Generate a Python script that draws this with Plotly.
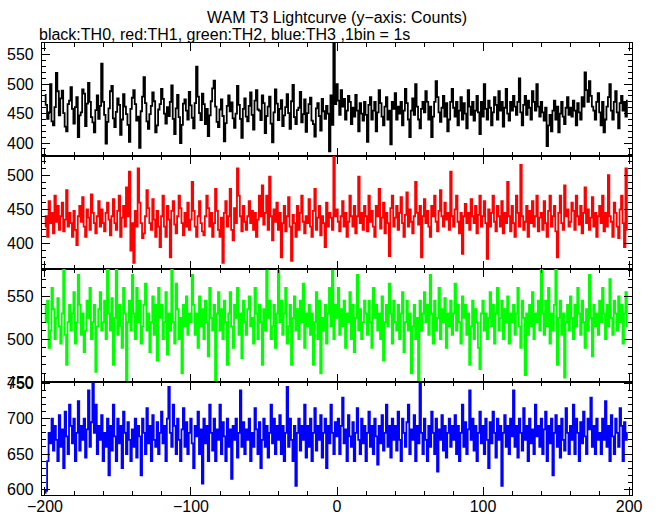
import plotly.graph_objects as go
from plotly.subplots import make_subplots

time_bins = list(range(-200, 200))

th0 = [
 482, 465, 441, 452, 500, 437, 430, 461, 519, 488, 447, 476, 489, 451, 428, 420, 466, 472, 495, 458,
 433, 461, 478, 410, 447, 452, 491, 484, 429, 467, 502, 470, 444, 435, 418, 456, 481, 441, 463, 535,
 470, 448, 399, 436, 459, 488, 497, 442, 427, 453, 476, 465, 414, 440, 483, 462, 449, 431, 402, 458,
 477, 490, 466, 438, 445, 392, 454, 479, 512, 468, 437, 424, 449, 463, 486, 471, 418, 430, 457, 466,
 492, 475, 450, 433, 461, 446, 470, 498, 441, 415, 459, 482, 444, 400, 431, 467, 474, 455, 440, 487,
 464, 443, 425, 468, 530, 479, 451, 439, 484, 466, 432, 458, 412, 447, 471, 493, 506, 462, 436, 427,
 457, 474, 446, 403, 434, 463, 481, 454, 469, 442, 426, 450, 497, 465, 441, 409, 458, 476, 445, 437,
 463, 486, 448, 423, 472, 490, 457, 455, 439, 481, 468, 417, 446, 462, 479, 433, 401, 452, 491, 467,
 439, 458, 473, 429, 447, 461, 483, 451, 424, 471, 499, 444, 432, 456, 460, 487, 435, 449, 474, 419,
 451, 466, 477, 438, 432, 411, 459, 468, 446, 421, 475, 454, 441, 463, 450, 386, 481, 431, 570, 466,
 500, 472, 448, 490, 462, 475, 440, 455, 480, 470, 432, 460, 445, 482, 455, 420, 468, 450, 438, 470,
 448, 402, 465, 478, 440, 455, 470, 420, 452, 490, 468, 445, 430, 462, 478, 440, 455, 398, 470, 458,
 485, 440, 462, 450, 470, 430, 455, 492, 468, 440, 410, 455, 476, 448, 500, 462, 440, 425, 458, 470,
 452, 488, 470, 440, 462, 410, 445, 470, 505, 478, 452, 436, 460, 480, 445, 468, 420, 440, 470, 492,
 460, 445, 470, 430, 455, 478, 440, 468, 450, 425, 490, 462, 448, 470, 438, 455, 480, 452, 415, 470,
 445, 500, 458, 440, 472, 460, 430, 452, 478, 465, 440, 488, 455, 470, 428, 460, 492, 450, 438, 470,
 455, 480, 462, 448, 470, 510, 452, 430, 465, 480, 448, 472, 460, 440, 488, 470, 455, 500, 462, 445,
 470, 452, 438, 460, 395, 430, 448, 420, 455, 472, 440, 462, 418, 450, 470, 445, 432, 460, 478, 448,
 460, 445, 472, 455, 430, 468, 452, 440, 478, 462, 520, 490, 470, 505, 480, 462, 455, 440, 470, 485,
 452, 430, 470, 418, 440, 462, 478, 500, 455, 440, 470, 488, 452, 425, 468, 480, 455, 470, 445, 472,
]

th1 = [
 425, 440, 410, 462, 430, 445, 415, 470, 432, 455, 420, 440, 460, 418, 435, 478, 425, 445, 430, 410,
 448, 420, 398, 440, 455, 432, 468, 425, 410, 450, 438, 420, 472, 445, 430, 415, 440, 462, 425, 450,
 430, 418, 445, 460, 435, 412, 440, 465, 430, 420, 448, 470, 410, 438, 455, 425, 482, 440, 505, 390,
 430, 372, 448, 425, 510, 460, 430, 408, 415, 440, 478, 452, 430, 420, 465, 435, 410, 448, 425, 395,
 440, 470, 425, 410, 455, 435, 380, 448, 462, 428, 415, 440, 470, 452, 430, 412, 445, 425, 460, 420,
 435, 490, 448, 425, 410, 440, 462, 430, 418, 412, 440, 470, 452, 425, 445, 410, 430, 480, 448, 420,
 410, 438, 372, 445, 462, 425, 440, 480, 420, 405, 452, 430, 510, 470, 440, 418, 455, 432, 420, 440,
 462, 430, 448, 420, 445, 410, 435, 470, 440, 485, 428, 445, 470, 420, 498, 440, 405, 450, 432, 460,
 420, 445, 380, 430, 455, 418, 440, 468, 425, 375, 442, 430, 410, 455, 420, 445, 470, 432, 415, 440,
 430, 465, 425, 410, 448, 480, 420, 438, 455, 412, 440, 430, 395, 460, 425, 445, 438, 420, 528, 440,
 450, 432, 418, 440, 462, 425, 445, 410, 432, 470, 440, 425, 455, 415, 440, 498, 430, 445, 420, 455,
 440, 418, 470, 432, 448, 425, 410, 455, 440, 480, 422, 438, 460, 415, 445, 430, 382, 452, 470, 425,
 438, 455, 420, 445, 468, 430, 410, 442, 475, 425, 450, 432, 415, 440, 490, 445, 428, 455, 380, 440,
 465, 430, 448, 425, 410, 455, 440, 470, 432, 418, 448, 478, 440, 425, 460, 435, 445, 420, 505, 440,
 425, 450, 470, 432, 415, 445, 385, 440, 458, 430, 445, 420, 465, 440, 430, 455, 415, 442, 470, 425,
 440, 462, 430, 378, 450, 425, 445, 470, 432, 418, 455, 440, 425, 462, 415, 445, 430, 490, 440, 418,
 455, 430, 410, 470, 445, 425, 515, 440, 420, 432, 455, 410, 448, 430, 462, 425, 440, 470, 418, 438,
 445, 420, 462, 430, 410, 448, 470, 425, 440, 455, 418, 380, 445, 470, 430, 420, 485, 440, 450, 425,
 432, 460, 448, 420, 470, 440, 428, 455, 415, 445, 482, 430, 450, 420, 438, 468, 425, 445, 410, 440,
 455, 430, 470, 418, 445, 425, 500, 440, 432, 410, 460, 445, 425, 408, 450, 470, 430, 395, 510, 420,
]

th2 = [
 540, 520, 545, 490, 510, 560, 535, 500, 525, 548, 515, 495, 530, 582, 505, 470, 520, 540, 510, 530,
 555, 495, 520, 575, 540, 505, 530, 485, 510, 545, 525, 560, 500, 520, 540, 462, 515, 535, 555, 510,
 520, 545, 500, 582, 530, 510, 548, 470, 525, 582, 505, 540, 515, 490, 560, 530, 452, 520, 545, 510,
 575, 530, 500, 560, 520, 545, 495, 515, 540, 565, 510, 530, 485, 520, 550, 505, 540, 475, 560, 525,
 540, 500, 520, 555, 482, 530, 510, 582, 520, 495, 565, 535, 500, 525, 460, 540, 515, 550, 505, 530,
 520, 575, 540, 505, 530, 490, 550, 515, 535, 500, 545, 520, 480, 560, 525, 510, 540, 452, 530, 555,
 510, 535, 500, 545, 520, 470, 530, 555, 515, 490, 540, 525, 560, 505, 530, 478, 545, 520, 505, 535,
 550, 515, 525, 495, 560, 530, 500, 540, 520, 470, 535, 510, 580, 525, 545, 500, 515, 540, 490, 530,
 582, 520, 545, 505, 530, 560, 495, 515, 540, 470, 525, 550, 510, 535, 500, 545, 520, 565, 490, 530,
 515, 540, 505, 530, 470, 520, 555, 500, 545, 460, 525, 510, 540, 495, 530, 560, 515, 580, 500, 540,
 525, 560, 505, 535, 515, 545, 490, 530, 520, 555, 500, 540, 485, 525, 575, 510, 535, 500, 520, 545,
 530, 505, 545, 520, 490, 560, 525, 540, 510, 530, 500, 550, 475, 520, 540, 515, 565, 530, 495, 545,
 520, 510, 540, 500, 530, 555, 485, 520, 545, 510, 530, 460, 515, 540, 500, 525, 452, 545, 510, 530,
 555, 520, 540, 505, 575, 530, 495, 545, 510, 525, 560, 500, 535, 520, 548, 490, 530, 515, 545, 505,
 530, 565, 510, 540, 520, 495, 550, 525, 540, 505, 530, 470, 515, 545, 500, 535, 520, 490, 465, 530,
 545, 510, 530, 500, 525, 555, 515, 540, 495, 530, 560, 510, 525, 545, 500, 535, 520, 550, 495, 530,
 520, 540, 505, 530, 560, 515, 490, 545, 525, 458, 530, 505, 540, 515, 555, 500, 530, 520, 545, 510,
 582, 530, 505, 545, 515, 560, 495, 530, 510, 540, 582, 470, 525, 545, 505, 530, 455, 520, 540, 510,
 550, 525, 500, 540, 515, 560, 530, 505, 545, 520, 490, 535, 510, 575, 525, 480, 540, 515, 530, 505,
 545, 520, 560, 530, 500, 540, 515, 570, 525, 505, 545, 530, 510, 550, 520, 540, 495, 530, 555, 515,
]

th3 = [
 595, 598, 640, 680, 665, 700, 655, 690, 670, 640, 705, 660, 685, 630, 710, 675, 650, 720, 690, 665,
 700, 640, 680, 725, 655, 690, 670, 700, 645, 685, 740, 660, 695, 750, 680, 720, 650, 690, 670, 705,
 640, 680, 660, 700, 620, 690, 655, 720, 675, 640, 700, 665, 690, 630, 710, 680, 650, 695, 670, 640,
 685, 660, 700, 645, 690, 675, 620, 700, 680, 650, 715, 665, 690, 640, 705, 670, 660, 695, 650, 680,
 710, 665, 690, 640, 700, 745, 680, 660, 720, 690, 650, 700, 670, 640, 685, 715, 660, 695, 650, 680,
 700, 665, 630, 690, 675, 710, 650, 685, 608, 700, 665, 690, 640, 720, 680, 655, 700, 640, 685, 670,
 720, 650, 695, 675, 640, 700, 660, 685, 615, 690, 670, 700, 645, 680, 740, 660, 695, 650, 685, 670,
 700, 640, 680, 660, 715, 685, 650, 695, 630, 670, 700, 660, 690, 645, 680, 720, 665, 700, 650, 690,
 670, 705, 650, 690, 640, 680, 745, 660, 700, 670, 640, 690, 605, 680, 700, 655, 690, 670, 720, 645,
 690, 660, 700, 640, 680, 715, 655, 690, 670, 705, 645, 680, 700, 630, 690, 665, 720, 680, 650, 695,
 675, 700, 650, 690, 730, 665, 685, 640, 705, 675, 660, 695, 640, 680, 715, 670, 650, 700, 665, 690,
 640, 680, 710, 660, 690, 650, 700, 675, 635, 690, 665, 705, 655, 680, 720, 660, 690, 645, 700, 670,
 690, 655, 710, 670, 640, 700, 680, 660, 695, 720, 650, 685, 670, 705, 640, 690, 665, 750, 680, 650,
 700, 670, 640, 690, 660, 710, 680, 650, 700, 625, 685, 670, 705, 655, 690, 645, 680, 700, 660, 690,
 670, 705, 650, 690, 640, 680, 720, 660, 695, 650, 685, 740, 670, 700, 655, 690, 640, 680, 710, 665,
 690, 650, 700, 670, 630, 695, 665, 710, 680, 645, 700, 670, 690, 605, 680, 705, 660, 690, 650, 700,
 675, 740, 660, 690, 645, 700, 680, 655, 715, 670, 690, 640, 700, 665, 685, 650, 720, 675, 690, 660,
 700, 650, 685, 710, 640, 690, 665, 700, 620, 680, 705, 660, 690, 645, 700, 670, 655, 715, 680, 650,
 690, 670, 720, 650, 700, 680, 640, 695, 665, 710, 675, 650, 700, 685, 730, 660, 690, 650, 700, 670,
 680, 650, 700, 670, 725, 660, 690, 640, 705, 675, 650, 700, 680, 660, 715, 690, 640, 695, 670, 680,
]

series = [th0, th1, th2, th3]
colors = ["#000000", "#ff0000", "#00ff00", "#0000ff"]
y_ranges = [[378, 570], [363, 528], [450, 582], [592, 752]]

title_text = "WAM T3 Lightcurve (y\u2212axis: Counts)"
subtitle_text = "black:TH0, red:TH1, green:TH2, blue:TH3 ,1bin = 1s"

fig = make_subplots(rows=4, cols=1, shared_xaxes=True, vertical_spacing=0)

for i, (ys, c) in enumerate(zip(series, colors)):
    fig.add_trace(go.Scatter(x=time_bins, y=ys, mode="lines",
                             line=dict(color=c, width=1.8, shape="hvh"),
                             showlegend=False, hoverinfo="skip"),
                  row=i + 1, col=1)

fam = "Liberation Sans, Arial, sans-serif"
font = dict(family=fam, size=16, color="black")

for i in range(4):
    fig.update_yaxes(range=y_ranges[i], dtick=50, ticks="inside", ticklen=8,
                     tickwidth=1.2, tickcolor="black", showline=True,
                     linecolor="black", linewidth=1.2, mirror="allticks",
                     showgrid=False, zeroline=False, tickfont=font,
                     ticklabelstandoff=4, automargin=False,
                     minor=dict(dtick=10, ticks="inside", ticklen=4,
                                tickcolor="black", tickwidth=1.1, showgrid=False),
                     row=i + 1, col=1)
    fig.update_xaxes(range=[-202, 202], dtick=100, ticks="inside", ticklen=8,
                     tickwidth=1.2, tickcolor="black", showline=True,
                     linecolor="black", linewidth=1.2, mirror="allticks",
                     showgrid=False, zeroline=False, tickfont=font,
                     showticklabels=(i == 3), automargin=False,
                     minor=dict(dtick=20, ticks="inside", ticklen=4,
                                tickcolor="black", tickwidth=1.1, showgrid=False),
                     row=i + 1, col=1)

try:
    fig.update_xaxes(ticklabelstandoff=-3, row=4, col=1)
except Exception:
    pass

L, R, T, B = 42, 28, 43, 20
pw = 660 - L - R
ph = 515 - T - B

fig.update_layout(
    width=660, height=515,
    margin=dict(l=L, r=R, t=T, b=B, autoexpand=False),
    paper_bgcolor="white", plot_bgcolor="white",
    font=font,
    annotations=[
        dict(text=title_text, x=(337 - L) / pw, y=(515 - B - 17) / ph,
             xref="paper", yref="paper", xanchor="center", yanchor="middle",
             showarrow=False, font=dict(family=fam, size=16, color="black")),
        dict(text=subtitle_text, x=(37 - L) / pw, y=(515 - B - 35) / ph,
             xref="paper", yref="paper", xanchor="left", yanchor="middle",
             showarrow=False, font=dict(family=fam, size=16, color="black")),
    ],
)

fig.write_html("out.html", config={"displayModeBar": False},
               post_script="document.body.style.margin='0';document.body.style.padding='0';document.documentElement.style.margin='0';")
